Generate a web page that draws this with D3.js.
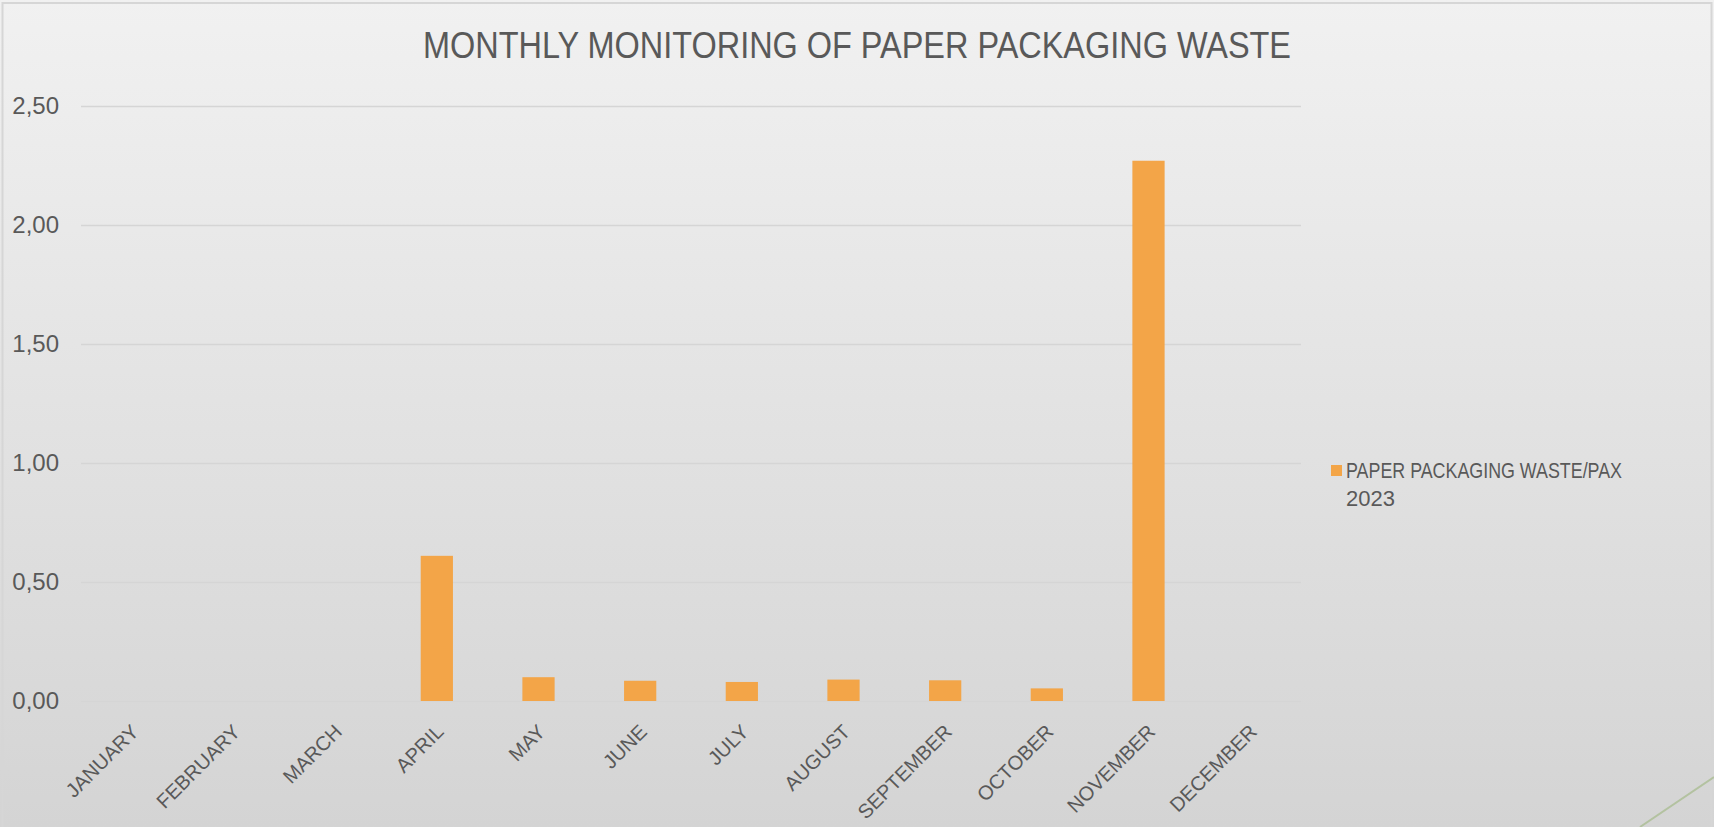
<!DOCTYPE html>
<html>
<head>
<meta charset="utf-8">
<script src="https://cdn.jsdelivr.net/npm/d3@7"></script>
<style>
  html, body { margin: 0; padding: 0; overflow: hidden; background: #e4e4e4; }
  svg { display: block; font-family: "Liberation Sans", Arial, sans-serif; }
</style>
</head>
<body>
<div id="chart"></div>
<script>
// chart data
let months = ["JANUARY", "FEBRUARY", "MARCH", "APRIL", "MAY", "JUNE", "JULY",
  "AUGUST", "SEPTEMBER", "OCTOBER", "NOVEMBER", "DECEMBER"];
let waste_per_pax = [null, null, null, 0.61, 0.10, 0.085, 0.08, 0.09, 0.087, 0.053, 2.27, null];
let y_ticks = [0, 0.5, 1, 1.5, 2, 2.5];
let chart_title = "MONTHLY MONITORING OF PAPER PACKAGING WASTE";
let legend_lines = ["PAPER PACKAGING WASTE/PAX", "2023"];

let width = 1714,
  height = 827;

let svg = d3.select("#chart").append("svg")
  .attr("width", width)
  .attr("height", height);

// background gradient like the slide
let defs = svg.append("defs");
let grad = defs.append("linearGradient")
  .attr("id", "bg_grad")
  .attr("x1", 0).attr("y1", 0).attr("x2", 0).attr("y2", 1);
grad.append("stop").attr("offset", "0%").attr("stop-color", "#f1f1f1");
grad.append("stop").attr("offset", "100%").attr("stop-color", "#d4d4d4");

svg.append("rect")
  .attr("width", width)
  .attr("height", height)
  .attr("fill", "url(#bg_grad)");

// frame
svg.append("rect")
  .attr("x", 2.5).attr("y", 3)
  .attr("width", 1709).attr("height", 840)
  .attr("fill", "none")
  .attr("stroke", "#d6d6d6")
  .attr("stroke-width", 2);

let plot = { left: 81, right: 1301, top: 106, bottom: 701 };

let x = d3.scaleBand()
  .domain(months)
  .range([plot.left, plot.right])
  .paddingInner(0.683)
  .paddingOuter(0.683 / 2);

let y = d3.scaleLinear()
  .domain([0, 2.5])
  .range([plot.bottom, plot.top]);

// gridlines
let grid = svg.append("g")
  .attr("transform", "translate(" + plot.left + ",0)")
  .call(d3.axisLeft(y).tickValues(y_ticks).tickSize(-(plot.right - plot.left)).tickFormat(""));
grid.select(".domain").remove();
grid.selectAll("line")
  .attr("stroke", "#d5d5d5")
  .attr("stroke-width", 1.5);

// y labels
let y_axis = svg.append("g")
  .attr("transform", "translate(59,0)")
  .call(d3.axisLeft(y).tickValues(y_ticks).tickSize(0).tickPadding(0)
    .tickFormat(d => d3.format(".2f")(d).replace(".", ",")));
y_axis.select(".domain").remove();
y_axis.selectAll("text")
  .attr("fill", "#595959")
  .style("font-size", "24px")
  .style("font-family", "'Liberation Sans', Arial, sans-serif");

// bars
svg.append("g").selectAll("rect")
  .data(months.map((m, i) => ({ month: m, value: waste_per_pax[i] })).filter(d => d.value != null))
  .join("rect")
  .attr("x", d => x(d.month))
  .attr("y", d => y(d.value))
  .attr("width", x.bandwidth())
  .attr("height", d => y(0) - y(d.value))
  .attr("fill", "#f3a548");

// x labels, rotated
let x_axis = svg.append("g")
  .attr("transform", "translate(0," + plot.bottom + ")")
  .call(d3.axisBottom(x).tickSize(0).tickPadding(0));
x_axis.select(".domain").remove();
x_axis.selectAll("text")
  .attr("fill", "#595959")
  .attr("text-anchor", "end")
  .attr("dy", null)
  .attr("y", null)
  .attr("transform", "translate(8,32) rotate(-45)")
  .style("font-size", "20px")
  .style("font-family", "'Liberation Sans', Arial, sans-serif");

// title
svg.append("text")
  .attr("x", 423)
  .attr("y", 58)
  .attr("textLength", 868)
  .attr("lengthAdjust", "spacingAndGlyphs")
  .attr("fill", "#595959")
  .style("font-size", "37px")
  .text(chart_title);

// legend
let legend = svg.append("g");
legend.append("rect")
  .attr("x", 1331).attr("y", 465)
  .attr("width", 11).attr("height", 11)
  .attr("fill", "#f3a548");
legend.append("text")
  .attr("x", 1346).attr("y", 478)
  .attr("textLength", 276)
  .attr("lengthAdjust", "spacingAndGlyphs")
  .attr("fill", "#595959")
  .style("font-size", "22px")
  .text(legend_lines[0]);
legend.append("text")
  .attr("x", 1346).attr("y", 506)
  .attr("fill", "#595959")
  .style("font-size", "22px")
  .text(legend_lines[1]);

// slide decoration line in the corner
svg.append("line")
  .attr("x1", 1714).attr("y1", 777)
  .attr("x2", 1640).attr("y2", 827)
  .attr("stroke", "#b3c2a0")
  .attr("stroke-width", 2);
</script>
</body>
</html>
